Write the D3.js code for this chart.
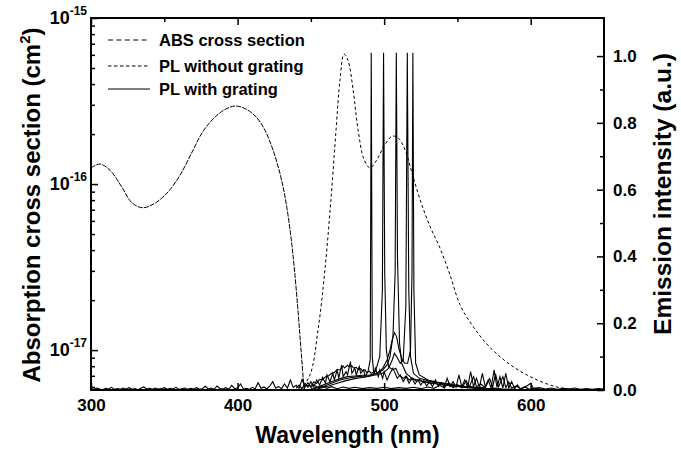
<!DOCTYPE html>
<html><head><meta charset="utf-8">
<script src="https://cdn.jsdelivr.net/npm/d3@7"></script>
<style>
body{margin:0;background:#fff;}
text{font-family:"Liberation Sans",Arial,sans-serif;font-weight:bold;fill:#000;}
</style></head>
<body><svg id="c" width="681" height="450"></svg>
<script>
// ---------- data ----------
const xTicks = [300, 400, 500, 600];
const rightTicks = [0, 0.2, 0.4, 0.6, 0.8, 1.0];
const logTicks = [1e-17, 1e-16, 1e-15];
const logTickLabels = ["-17", "-16", "-15"];
const legendLabels = ["ABS cross section", "PL without grating", "PL with grating"];

// absorption cross section (nm, cm^2)
const absData = [[300,1.25e-16],[306,1.32e-16],[313,1.21e-16],[321,9.6e-17],[328,7.7e-17],[335.5,7.2e-17],[344,7.7e-17],[352.5,8.95e-17],[360.7,1.13e-16],[369,1.56e-16],[375.7,2.03e-16],[382.6,2.43e-16],[390.7,2.79e-16],[398.2,2.95e-16],[405.7,2.83e-16],[413.3,2.5e-16],[418.7,2.11e-16],[424.2,1.6e-16],[428.9,1.16e-16],[432.4,8.35e-17],[435.8,5.3e-17],[438.5,3.25e-17],[441.2,1.74e-17],[443.3,1.0e-17],[445.3,6.1e-18],[446,5.6e-18]];

// PL without grating (nm, a.u.)
const plNoGrating = [[442.6,0],[449.4,0.045],[454.9,0.18],[459.6,0.36],[463.7,0.57],[467.2,0.78],[469.9,0.93],[472.6,1.006],[475.3,0.988],[478.8,0.9],[482.2,0.78],[486.3,0.69],[490.4,0.665],[495.1,0.69],[499.9,0.73],[505.4,0.76],[509.5,0.755],[514.2,0.72],[519,0.65],[524.5,0.57],[531.3,0.49],[538.1,0.425],[544.9,0.345],[551.8,0.255],[559.9,0.195],[568.8,0.144],[577.7,0.105],[587.2,0.072],[597.5,0.045],[607.7,0.024],[617.9,0.009],[626.8,0.003],[640.4,0],[650,0]];

// PL with grating: baseline / noise trace
const gratingBase = [[300,.004],[302,.002],[304,.006],[306,.003],[308,.001],[310,.005],[312,.003],[314,.008],[316,.002],[318,.004],[320,.002],[322,.006],[324,.003],[326,.007],[328,.002],[330,.004],[332,.001],[334,.005],[336,.009],[338,.003],[340,.005],[342,.002],[344,.006],[346,.003],[348,.004],[350,.007],[352,.002],[354,.005],[356,.003],[358,.008],[360,.002],[362,.004],[364,.006],[366,.002],[368,.005],[370,.003],[372,.007],[374,.002],[376,.004],[378,.011],[380,.003],[382,.006],[384,.002],[386,.012],[388,.004],[390,.003],[392,.007],[394,.002],[396,.014],[398,.004],[400,.006],[402,.018],[404,.003],[406,.005],[408,.002],[410,.008],[412,.004],[414,.022],[416,.005],[418,.009],[420,.003],[422,.012],[424,.025],[426,.006],[428,.010],[430,.004],[432,.018],[434,.006],[436,.030],[438,.008],[440,.014],[442,.005],[444,.032],[446,.009],[448,.022],[450,.008],[452,.016],[455,.006],[458,.012],[461,.005],[464,.010],[468,.004],[472,.009],[476,.005],[480,.008],[485,.004],[490,.007],[495,.005],[500,.008],[505,.004],[510,.007],[515,.005],[520,.008],[525,.004],[530,.009],[534,.005],[538,.014],[541,.006],[544,.022],[547,.007],[550,.016],[553,.006],[556,.028],[558,.008],[561,.040],[563,.010],[566,.018],[569,.007],[572,.034],[574,.008],[576,.048],[578,.009],[581,.040],[583,.007],[585,.024],[587,.006],[590,.012],[593,.004],[596,.008],[600,.020],[602,.004],[606,.007],[610,.003],[614,.006],[618,.002],[622,.005],[626,.003],[630,.006],[634,.002],[638,.004],[642,.002],[646,.004],[650,.003]];

// PL with grating: lasing spectra
const gratingA = [[440,.006],[442,.015],[444,.004],[446,.020],[448,.008],[450,.025],[452,.010],[454,.030],[456,.015],[458,.038],[460,.020],[461,.045],[463,.025],[465,.050],[466,.030],[468,.060],[469,.035],[471,.075],[472,.040],[474,.055],[475,.045],[477,.085],[478,.050],[480,.065],[481,.045],[483,.070],[484,.050],[486,.060],[487,.040],[489,.055],[490.5,.09],[491.2,1.01],[491.9,.10],[493,.045],[494,.065],[496,.040],[497,.060],[499,.035],[500,.055],[502,.030],[504,.050],[506,.065],[507,.055],[509,.035],[511,.045],[513,.025],[515,.040],[517,.020],[519,.035],[521,.018],[523,.030],[525,.015],[527,.028],[529,.012],[531,.025],[533,.010],[535,.030],[537,.010],[539,.022],[541,.008],[543,.035],[545,.010],[547,.025],[549,.008],[551,.045],[553,.010],[555,.030],[557,.008],[559,.055],[561,.010],[563,.035],[565,.008],[567,.050],[569,.010],[571,.030],[573,.006],[575,.060],[577,.008],[579,.040],[581,.006],[583,.050],[585,.006],[587,.025],[589,.004],[591,.015],[593,.003],[596,.010],[599,.002],[603,.006],[607,.002]];
const gratingB = [[445,.005],[447,.014],[450,.012],[452,.024],[454,.020],[456,.032],[458,.030],[460,.040],[462,.042],[464,.050],[466,.052],[468,.062],[470,.060],[472,.072],[473,.066],[475,.074],[476,.070],[478,.072],[479,.066],[481,.068],[482,.062],[484,.064],[485,.058],[487,.060],[488,.052],[490,.056],[491,.050],[494,.055],[497,.10],[498.8,.30],[499.6,1.01],[500.4,.35],[501.5,.12],[503,.07],[506,.06],[508,.065],[510,.045],[513,.035],[515,.042],[517,.030],[519,.036],[522,.026],[524,.032],[527,.022],[529,.028],[532,.019],[534,.024],[537,.016],[539,.022],[542,.013],[545,.018],[548,.010],[551,.014],[555,.007],[558,.012],[562,.005],[566,.009],[570,.003],[575,.006],[580,.002]];
const gratingC = [[450,.004],[455,.010],[460,.018],[465,.026],[470,.034],[475,.040],[480,.042],[485,.044],[490,.045],[495,.050],[499,.060],[502,.075],[504,.10],[506,.16],[507.5,.35],[508.3,1.01],[509.1,.40],[510.5,.14],[512,.08],[515,.05],[519,.035],[524,.028],[530,.022],[536,.018],[542,.014],[548,.011],[555,.008],[563,.005],[572,.003],[582,.002]];
const gratingD = [[452,.004],[458,.010],[464,.020],[470,.030],[476,.036],[482,.040],[488,.042],[494,.045],[499,.050],[503,.065],[505.5,.09],[507,.11],[508.5,.10],[511,.08],[513,.09],[514.8,.25],[515.8,1.01],[516.8,.30],[518,.10],[520,.05],[524,.035],[530,.028],[536,.022],[542,.018],[548,.014],[555,.010],[562,.007],[570,.004],[580,.002]];
const gratingE = [[455,.004],[462,.012],[468,.020],[474,.028],[480,.034],[486,.038],[491,.042],[495,.050],[499,.065],[502,.090],[504,.120],[505.5,.150],[507,.172],[508.5,.160],[510,.125],[512,.095],[514,.080],[516,.080],[518,.12],[519,.35],[519.6,1.01],[520.3,.30],[521.5,.08],[524,.045],[530,.030],[536,.024],[542,.019],[548,.015],[555,.011],[562,.008],[570,.005],[580,.003],[590,.002]];

(function(){
const svg = d3.select("#c");
const L = 91, R = 604, T = 18, B = 390;
const x = d3.scaleLinear().domain([300, 650]).range([L, R]);
const yL = d3.scaleLog().domain([5.75e-18, 1e-15]).range([B, T]);
const yR = d3.scaleLinear().domain([0, 1.114]).range([B, T]);

svg.append("clipPath").attr("id","pc").append("rect")
  .attr("x", L).attr("y", T).attr("width", R-L).attr("height", B-T);
const g = svg.append("g").attr("clip-path","url(#pc)");

const lineL = d3.line().x(d => x(d[0])).y(d => yL(d[1])).curve(d3.curveCatmullRom);
const lineRs = d3.line().x(d => x(d[0])).y(d => yR(d[1])).curve(d3.curveCatmullRom);
const lineR = d3.line().x(d => x(d[0])).y(d => yR(d[1]));

g.append("path").attr("d", lineL(absData))
  .attr("fill","none").attr("stroke","#000").attr("stroke-width",1).attr("stroke-dasharray","5,1.2");
g.append("path").attr("d", lineRs(plNoGrating))
  .attr("fill","none").attr("stroke","#000").attr("stroke-width",1).attr("stroke-dasharray","3,2.5");
[gratingBase, gratingA, gratingB, gratingC, gratingD, gratingE].forEach(s => {
  g.append("path").attr("d", lineR(s))
    .attr("fill","none").attr("stroke","#000").attr("stroke-width",1.1);
});

const ax = svg.append("g");
ax.append("rect").attr("x",L).attr("y",T).attr("width",R-L).attr("height",B-T)
  .attr("fill","none").attr("stroke","#000").attr("stroke-width",2);

const axB = ax.append("g").attr("transform",`translate(0,${B})`)
  .call(d3.axisBottom(x).tickValues(xTicks).tickSizeInner(-7).tickSizeOuter(0).tickPadding(9).tickFormat(d3.format("d")));
ax.append("g").attr("transform",`translate(0,${T})`)
  .call(d3.axisTop(x).tickValues(xTicks).tickSizeInner(-7).tickSizeOuter(0).tickFormat(""));
ax.append("g").attr("transform",`translate(0,${T})`)
  .call(d3.axisTop(x).tickValues([350, 450, 550]).tickSizeInner(-4).tickSizeOuter(0).tickFormat(""));

const axR = ax.append("g").attr("transform",`translate(${R},0)`)
  .call(d3.axisRight(yR).tickValues(rightTicks).tickSizeInner(-7).tickSizeOuter(0).tickPadding(9).tickFormat(d3.format(".1f")));
ax.append("g").attr("transform",`translate(${R},0)`)
  .call(d3.axisRight(yR).tickValues([0.1,0.3,0.5,0.7,0.9]).tickSizeInner(-4).tickSizeOuter(0).tickFormat(""));

ax.append("g").attr("transform",`translate(${L},0)`)
  .call(d3.axisLeft(yL).tickValues(logTicks).tickSizeInner(-7).tickSizeOuter(0).tickFormat(""));
const minorLog = [];
[1e-18, 1e-17, 1e-16].forEach(b => { for (let k = 2; k <= 9; k++) { const v = b*k; if (v > 5.75e-18) minorLog.push(v); } });
ax.append("g").attr("transform",`translate(${L},0)`)
  .call(d3.axisLeft(yL).tickValues(minorLog).tickSizeInner(-4).tickSizeOuter(0).tickFormat(""));

ax.selectAll(".domain").remove();
ax.selectAll(".tick line").attr("stroke","#000").attr("stroke-width",1.5);
[axB, axR].forEach(a => a.selectAll("text").attr("font-size",17).attr("font-family","Liberation Sans, Arial").attr("font-weight","bold").attr("fill","#000"));

logTicks.forEach((v,i) => {
  const t = svg.append("text").attr("x", 87).attr("y", yL(v) + 6).attr("text-anchor","end").attr("font-size",18);
  t.append("tspan").text("10");
  t.append("tspan").attr("dy",-9).attr("font-size",12).text(logTickLabels[i]);
});

svg.append("text").attr("transform",`translate(${(L+R)/2},443)`).attr("text-anchor","middle")
  .attr("font-size",23).text("Wavelength (nm)");
const lt = svg.append("text").attr("transform","translate(40,205) rotate(-90)").attr("text-anchor","middle").attr("font-size",24);
lt.append("tspan").text("Absorption cross section  (cm");
lt.append("tspan").attr("dy",-10).attr("font-size",15).text("2");
lt.append("tspan").attr("dy",10).text(")");
svg.append("text").attr("transform","translate(671,194) rotate(-90)").attr("text-anchor","middle")
  .attr("font-size",24.5).text("Emission intensity (a.u.)");

const legY = [40, 66, 89];
const legDash = ["5,3.4", "3.5,2.5", null];
legendLabels.forEach((s,i) => {
  const ln = svg.append("line").attr("x1",108).attr("x2",150).attr("y1",legY[i]).attr("y2",legY[i])
    .attr("stroke","#000").attr("stroke-width",1.2);
  if (legDash[i]) ln.attr("stroke-dasharray", legDash[i]);
  svg.append("text").attr("x",159).attr("y",legY[i]+6).attr("font-size",16.5).text(s);
});
})();
</script></body></html>
